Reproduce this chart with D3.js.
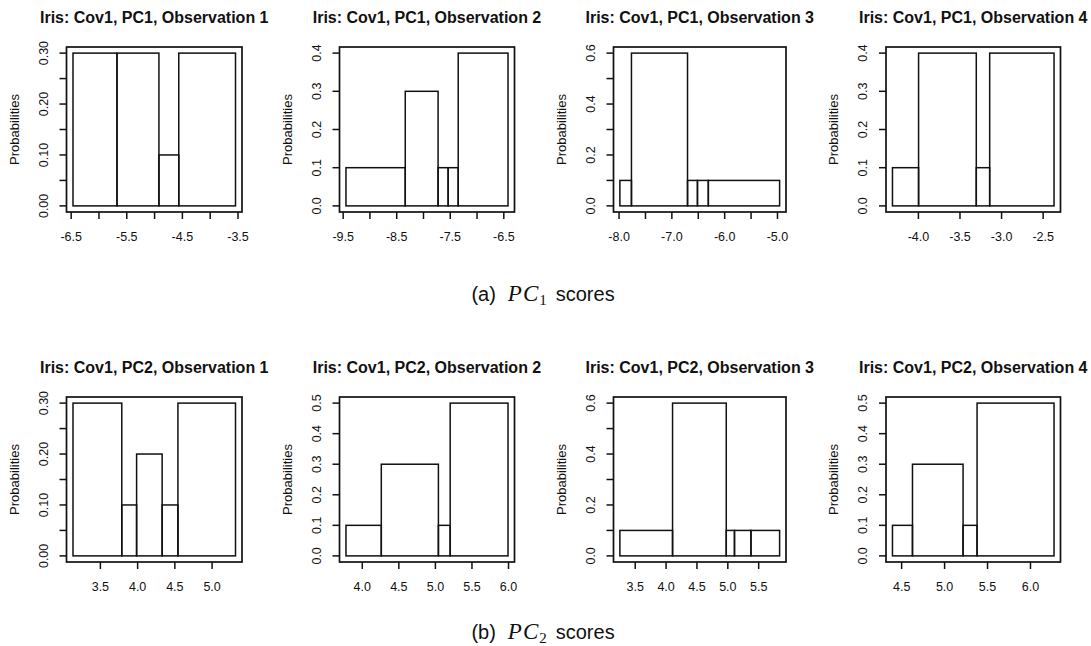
<!DOCTYPE html>
<html>
<head>
<meta charset="utf-8">
<script src="https://cdn.jsdelivr.net/npm/d3@7"></script>
<style>
  body { margin: 0; background: #fff; }
  svg { display: block; }
  text { font-family: "Liberation Sans", Arial, sans-serif; fill: #111; }
</style>
</head>
<body>
<div id="content"></div>
<script>
// panel titles
const pc1Titles = ["Iris: Cov1, PC1, Observation 1", "Iris: Cov1, PC1, Observation 2",
                   "Iris: Cov1, PC1, Observation 3", "Iris: Cov1, PC1, Observation 4"]
const pc2Titles = ["Iris: Cov1, PC2, Observation 1", "Iris: Cov1, PC2, Observation 2",
                   "Iris: Cov1, PC2, Observation 3", "Iris: Cov1, PC2, Observation 4"]

// histogram break points and bar heights
const pc1Breaks = [
    [-6.458, -5.667, -4.913, -4.556, -3.536],
    [-9.438, -8.331, -7.718, -7.530, -7.342, -6.412],
    [-7.975, -7.756, -6.694, -6.506, -6.300, -4.950],
    [-4.306, -3.992, -3.298, -3.137, -2.363]
]
const pc1Probs = [
    [0.3, 0.3, 0.1, 0.3],
    [0.1, 0.3, 0.1, 0.1, 0.4],
    [0.1, 0.6, 0.1, 0.1, 0.1],
    [0.1, 0.4, 0.1, 0.4]
]
const pc2Breaks = [
    [3.139, 3.794, 3.993, 4.336, 4.548, 5.321],
    [3.784, 4.267, 5.048, 5.209, 6.000],
    [3.260, 4.113, 4.983, 5.116, 5.383, 5.847],
    [4.399, 4.632, 5.221, 5.384, 6.280]
]
const pc2Probs = [
    [0.3, 0.1, 0.2, 0.1, 0.3],
    [0.1, 0.3, 0.1, 0.5],
    [0.1, 0.6, 0.1, 0.1, 0.1],
    [0.1, 0.3, 0.1, 0.5]
]

// x ticks and the labels R managed to fit
const pc1XTicks = [
    [-6.5, -6, -5.5, -5, -4.5, -4, -3.5],
    [-9.5, -9, -8.5, -8, -7.5, -7, -6.5],
    [-8, -7.5, -7, -6.5, -6, -5.5, -5],
    [-4, -3.5, -3, -2.5]
]
const pc1XLabels = [
    ["-6.5", "-5.5", "-4.5", "-3.5"],
    ["-9.5", "-8.5", "-7.5", "-6.5"],
    ["-8.0", "-7.0", "-6.0", "-5.0"],
    ["-4.0", "-3.5", "-3.0", "-2.5"]
]
const pc2XTicks = [
    [3.5, 4, 4.5, 5],
    [4, 4.5, 5, 5.5, 6],
    [3.5, 4, 4.5, 5, 5.5],
    [4.5, 5, 5.5, 6]
]
const pc2XLabels = [
    ["3.5", "4.0", "4.5", "5.0"],
    ["4.0", "4.5", "5.0", "5.5", "6.0"],
    ["3.5", "4.0", "4.5", "5.0", "5.5"],
    ["4.5", "5.0", "5.5", "6.0"]
]

// y ticks and labels
const pc1YTicks = [
    [0, 0.05, 0.1, 0.15, 0.2, 0.25, 0.3],
    [0, 0.1, 0.2, 0.3, 0.4],
    [0, 0.1, 0.2, 0.3, 0.4, 0.5, 0.6],
    [0, 0.1, 0.2, 0.3, 0.4]
]
const pc1YLabels = [
    ["0.00", "0.10", "0.20", "0.30"],
    ["0.0", "0.1", "0.2", "0.3", "0.4"],
    ["0.0", "0.2", "0.4", "0.6"],
    ["0.0", "0.1", "0.2", "0.3", "0.4"]
]
const pc2YTicks = [
    [0, 0.05, 0.1, 0.15, 0.2, 0.25, 0.3],
    [0, 0.1, 0.2, 0.3, 0.4, 0.5],
    [0, 0.1, 0.2, 0.3, 0.4, 0.5, 0.6],
    [0, 0.1, 0.2, 0.3, 0.4, 0.5]
]
const pc2YLabels = [
    ["0.00", "0.10", "0.20", "0.30"],
    ["0.0", "0.1", "0.2", "0.3", "0.4", "0.5"],
    ["0.0", "0.2", "0.4", "0.6"],
    ["0.0", "0.1", "0.2", "0.3", "0.4", "0.5"]
]

const captions = [["(a)", "1"], ["(b)", "2"]]

// layout
const outerWidth = 1091
const outerHeight = 646
const colLeft = [66.5, 339.5, 613.5, 886]
const colWidth = [175.5, 175, 172.5, 174.5]
const rowTop = [47, 397]
const boxHeight = 165
const tickLen = 7
const ink = "#111"

const svg = d3.select("#content").append("svg")
    .attr("width", outerWidth)
    .attr("height", outerHeight)

function drawPanel(row, col, title, breaks, probs, xTicks, xLabels, yTicks, yLabels) {
    const width = colWidth[col]
    const height = boxHeight
    const g = svg.append("g")
        .attr("transform", `translate(${colLeft[col]}, ${rowTop[row]})`)

    // R style limits: 4% padding each side
    const xMin = d3.min(breaks), xMax = d3.max(breaks)
    const xPad = (xMax - xMin) * 0.04
    const yMax = d3.max(probs)
    const xScale = d3.scaleLinear()
        .domain([xMin - xPad, xMax + xPad])
        .range([0, width])
    const yScale = d3.scaleLinear()
        .domain([-yMax * 0.04, yMax * 1.04])
        .range([height, 0])

    const bars = probs.map((p, i) => ({x0: breaks[i], x1: breaks[i + 1], p: p}))

    g.selectAll(".bar")
        .data(bars)
        .enter().append("rect")
        .attr("class", "bar")
        .attr("x", d => xScale(d.x0))
        .attr("y", d => yScale(d.p))
        .attr("width", d => xScale(d.x1) - xScale(d.x0))
        .attr("height", d => yScale(0) - yScale(d.p))
        .attr("fill", "none")
        .attr("stroke", ink)
        .attr("stroke-width", 1.5)

    // box
    g.append("rect")
        .attr("width", width)
        .attr("height", height)
        .attr("fill", "none")
        .attr("stroke", ink)
        .attr("stroke-width", 1.7)

    // x axis
    const xAxis = d3.axisBottom(xScale)
        .tickValues(xTicks)
        .tickSize(tickLen)
        .tickPadding(13)
        .tickFormat(v => {
            const lab = xLabels.find(s => Math.abs(+s - v) < 1e-9)
            return lab === undefined ? "" : lab
        })
    const gx = g.append("g")
        .attr("transform", `translate(0, ${height})`)
        .call(xAxis)
    gx.select(".domain").remove()
    gx.selectAll("line").attr("stroke", ink).attr("stroke-width", 1.5)
    gx.selectAll("text")
        .style("font-size", "12.5px")
        .style("font-family", "'Liberation Sans', Arial, sans-serif")
        .attr("fill", ink)

    // y axis, labels rotated like R's las = 0
    const gy = g.append("g")
    gy.selectAll(".ytick")
        .data(yTicks)
        .enter().append("line")
        .attr("class", "ytick")
        .attr("x1", -tickLen)
        .attr("x2", 0)
        .attr("y1", d => yScale(d))
        .attr("y2", d => yScale(d))
        .attr("stroke", ink)
        .attr("stroke-width", 1.5)
    gy.selectAll(".ylab")
        .data(yLabels)
        .enter().append("text")
        .attr("class", "ylab")
        .attr("transform", d => `translate(-19, ${yScale(+d)}) rotate(-90)`)
        .style("text-anchor", "middle")
        .style("font-size", "12.5px")
        .text(d => d)

    g.append("text")
        .attr("transform", `translate(-48, ${height / 2}) rotate(-90)`)
        .style("text-anchor", "middle")
        .style("font-size", "13px")
        .text("Probabilities")

    g.append("text")
        .attr("x", width / 2)
        .attr("y", -24)
        .style("text-anchor", "middle")
        .style("font-size", "16px")
        .style("font-weight", "700")
        .text(title)
}

for (let i = 0; i < 4; i++) {
    drawPanel(0, i, pc1Titles[i], pc1Breaks[i], pc1Probs[i], pc1XTicks[i], pc1XLabels[i], pc1YTicks[i], pc1YLabels[i])
    drawPanel(1, i, pc2Titles[i], pc2Breaks[i], pc2Probs[i], pc2XTicks[i], pc2XLabels[i], pc2YTicks[i], pc2YLabels[i])
}

// sub-figure captions
const captionY = [301, 639]
captions.forEach((c, i) => {
    const t = svg.append("text")
        .attr("x", 543)
        .attr("y", captionY[i])
        .style("text-anchor", "middle")
        .style("font-size", "20px")
    t.append("tspan").text(c[0])
    t.append("tspan")
        .attr("dx", 12)
        .style("font-family", "'Liberation Serif', 'DejaVu Serif', serif")
        .style("font-style", "italic")
        .style("font-size", "23px")
        .attr("letter-spacing", 1)
        .text("PC")
    t.append("tspan")
        .attr("dy", 4)
        .attr("dx", 0)
        .style("font-family", "'Liberation Serif', 'DejaVu Serif', serif")
        .style("font-size", "15px")
        .text(c[1])
    t.append("tspan")
        .attr("dy", -4)
        .attr("dx", 9)
        .text("scores")
})
</script>
</body>
</html>
